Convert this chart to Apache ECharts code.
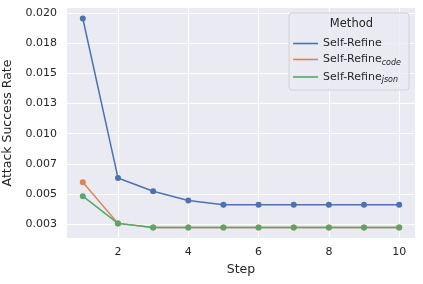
<!DOCTYPE html>
<html><head><meta charset="utf-8">
<script src="https://cdn.jsdelivr.net/npm/echarts@6/dist/echarts.min.js"></script>
<style>html,body{margin:0;padding:0;background:#fff}#c{width:423px;height:284px}</style>
</head><body><div id="c"></div>
<script>
const steps = [1,2,3,4,5,6,7,8,9,10];
const selfRefine = [0.01953,0.00634,0.00524,0.00447,0.00412,0.00412,0.00412,0.00412,0.00412,0.00412];
const selfRefineCode = [0.00598,0.00258,0.00223,0.00223,0.00223,0.00223,0.00223,0.00223,0.00223,0.00223];
const selfRefineJson = [0.00483,0.00258,0.00223,0.00223,0.00223,0.00223,0.00223,0.00223,0.00223,0.00223];
const seriesNames = ['Self-Refine','Self-Refine_code','Self-Refine_json'];
const xTicks = [2,4,6,8,10];
const yTicks = [0.0025,0.005,0.0075,0.01,0.0125,0.015,0.0175,0.02];
const yTickLabels = ['0.003','0.005','0.007','0.010','0.013','0.015','0.018','0.020'];
const colors = ['#4C72B0','#DD8452','#55A868'];
const txt = '#262626';
const font = 'DejaVu Sans';

const chart = echarts.init(document.getElementById('c'), null, {renderer:'canvas'});
function mk(vals){ return steps.map((s,i)=>[s, vals[i]]); }
const allVals = [selfRefine, selfRefineCode, selfRefineJson];
chart.setOption({
  animation:false,
  backgroundColor:'#fff',
  textStyle:{fontFamily:font},
  grid:{left:67,right:8,top:8,bottom:46,show:true,backgroundColor:'#EAEAF2',borderWidth:0,outerBoundsMode:'none',containLabel:false},
  xAxis:{type:'value',min:0.55,max:10.45,
    name:'Step',nameLocation:'middle',nameGap:24,nameTextStyle:{fontSize:12.5,color:txt,fontFamily:font},
    axisLine:{show:false},axisTick:{show:false,customValues:xTicks},
    axisLabel:{customValues:xTicks,fontSize:11,color:txt,margin:9,fontFamily:font},
    splitLine:{show:true,lineStyle:{color:'#fff',width:1}}},
  yAxis:{type:'value',min:0.00137,max:0.0204,
    name:'Attack Success Rate',nameLocation:'middle',nameGap:41,nameRotate:90,nameTextStyle:{fontSize:12.5,color:txt,fontFamily:font},
    axisLine:{show:false},axisTick:{show:false,customValues:yTicks},
    axisLabel:{customValues:yTicks,fontSize:11,color:txt,margin:10,fontFamily:font,
      formatter:function(v){ for(let i=0;i<yTicks.length;i++){ if(Math.abs(v-yTicks[i])<1e-9) return yTickLabels[i]; } return ''; }},
    splitLine:{show:true,lineStyle:{color:'#fff',width:1}}},
  legend:{orient:'vertical',right:14,top:13,padding:[25,8,6,4],itemGap:5,
    backgroundColor:'rgba(234,234,242,0.8)',borderColor:'#d0d0d6',borderWidth:1,borderRadius:3,
    icon:'rect',itemWidth:25,itemHeight:1.6,
    data:seriesNames,
    textStyle:{fontSize:11,color:txt,fontFamily:font,
      rich:{a:{fontSize:11,color:txt,fontFamily:font},
            sub:{fontSize:8,fontStyle:'italic',color:txt,fontFamily:font,padding:[6,0,0,0]}}},
    formatter:function(n){ const p=n.split('_'); return p.length>1?'{a|'+p[0]+'}{sub|'+p[1]+'}':'{a|'+n+'}'; }},
  graphic:[{type:'text',right:50,top:18,z:100,style:{text:'Method',fontSize:11.5,fill:txt,fontFamily:font}}],
  series: seriesNames.map((n,i)=>({name:n,type:'line',data:mk(allVals[i]),
    symbol:'circle',symbolSize:6,showSymbol:true,
    lineStyle:{width:1.5,color:colors[i]},itemStyle:{color:colors[i]},z:2+i}))
});
</script></body></html>
